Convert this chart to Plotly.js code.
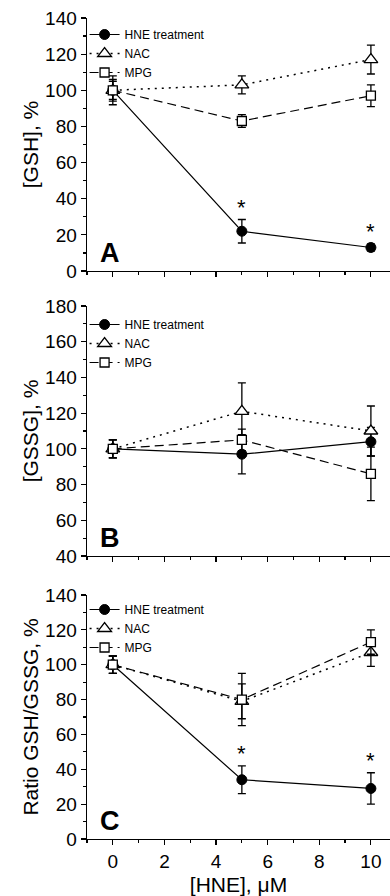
<!DOCTYPE html>
<html>
<head>
<meta charset="utf-8">
<script src="https://cdn.plot.ly/plotly-3.0.1.min.js"></script>
<style>html,body{margin:0;padding:0;background:#fff}#chart{width:390px;height:896px}</style>
</head>
<body>
<div id="chart"></div>
<script>
// ---- data ----
const hneDose = [0, 5, 10];
const seriesNames = ['HNE treatment', 'NAC', 'MPG'];

const gshHNE = [100, 22, 13];
const gshHNEerr = [8, 6.5, 2];
const gshNAC = [100, 103, 117];
const gshNACerr = [5, 5, 8];
const gshMPG = [100, 83, 97];
const gshMPGerr = [6, 3.5, 6];

const gssgHNE = [100, 97, 104];
const gssgHNEerr = [5, 11, 8];
const gssgNAC = [100, 121, 110];
const gssgNACerr = [5, 16, 14];
const gssgMPG = [100, 105, 86];
const gssgMPGerr = [5, 6, 15];

const ratioHNE = [100, 34, 29];
const ratioHNEerr = [5, 8, 9];
const ratioNAC = [100, 79, 107];
const ratioNACerr = [5, 10, 8];
const ratioMPG = [100, 80, 113];
const ratioMPGerr = [5, 15, 7];

const yTitles = ['[GSH], %', '[GSSG], %', 'Ratio GSH/GSSG, %'];
const panelLetters = ['A', 'B', 'C'];
const xTitle = '[HNE], μM';
// significance marks: which HNE points get an asterisk, per panel
const sigA = [false, true, true];
const sigB = [false, false, false];
const sigC = [false, true, true];

// ---- styles ----
const FONT = 'Liberation Sans, Arial, sans-serif';
const styles = [
  {line: {color: '#000', width: 1.2, dash: 'solid'}, marker: {symbol: 'circle', size: 10, color: '#000', line: {color: '#000', width: 1}}},
  {line: {color: '#000', width: 1.5, dash: '2px,5px'}, marker: {symbol: 'triangle-up', size: 12, color: '#fff', line: {color: '#000', width: 1.3}}},
  {line: {color: '#000', width: 1.2, dash: '9px,5px'}, marker: {symbol: 'square', size: 9, color: '#fff', line: {color: '#000', width: 1.3}}}
];

const panels = [
  {vals: [gshHNE, gshNAC, gshMPG], errs: [gshHNEerr, gshNACerr, gshMPGerr], sig: sigA},
  {vals: [gssgHNE, gssgNAC, gssgMPG], errs: [gssgHNEerr, gssgNACerr, gssgMPGerr], sig: sigB},
  {vals: [ratioHNE, ratioNAC, ratioMPG], errs: [ratioHNEerr, ratioNACerr, ratioMPGerr], sig: sigC}
];

const traces = [];
const annotations = [];
panels.forEach((p, pi) => {
  const xa = pi === 0 ? 'x' : 'x' + (pi + 1);
  const ya = pi === 0 ? 'y' : 'y' + (pi + 1);
  const lg = pi === 0 ? 'legend' : 'legend' + (pi + 1);
  p.vals.forEach((v, si) => {
    traces.push({
      type: 'scatter', mode: 'lines+markers',
      x: hneDose, y: v, name: seriesNames[si],
      xaxis: xa, yaxis: ya, legend: lg,
      line: styles[si].line, marker: styles[si].marker,
      error_y: {type: 'data', array: p.errs[si], visible: true, color: '#000', thickness: 1.3, width: 4},
      cliponaxis: false
    });
  });
  p.sig.forEach((s, i) => {
    if (s) {
      annotations.push({
        xref: xa, yref: ya, x: hneDose[i], y: p.vals[0][i] + p.errs[0][i],
        text: '*', showarrow: false, yanchor: 'bottom', yshift: -2,
        font: {family: FONT, size: 22, color: '#000'}
      });
    }
  });
  annotations.push({
    xref: xa + ' domain', yref: ya + ' domain', x: 0.035, y: 0,
    xanchor: 'left', yanchor: 'bottom', yshift: 1,
    text: '<b>' + panelLetters[pi] + '</b>', showarrow: false,
    font: {family: FONT, size: 27, color: '#000'}
  });
});

const plotTop = 18, plotBottom = 839, H = 896;
const span = plotBottom - plotTop;
const f = px => (plotBottom - px) / span;

const xRange = [-1, 10.74];
function xAxis(showLabels, anchor) {
  return {
    anchor: anchor, range: xRange, tickmode: 'array', tickvals: [0, 2, 4, 6, 8, 10],
    ticks: 'outside', ticklen: 5, tickwidth: 1.2, tickcolor: '#000',
    minor: {tickmode: 'array', tickvals: [-1, 1, 3, 5, 7, 9], ticks: 'outside', ticklen: 3, tickwidth: 1.2, tickcolor: '#000'},
    showline: true, linecolor: '#000', linewidth: 1.4,
    showgrid: false, zeroline: false, showticklabels: showLabels,
    tickfont: {family: FONT, size: 19, color: '#000'}, fixedrange: true
  };
}
function xTop(overlay, anchor) {
  const a = xAxis(false, anchor);
  a.overlaying = overlay; a.side = 'top'; a.ticks = 'inside'; a.minor.ticks = 'inside';
  return a;
}
function yAxis(domain, range, dtick, title, standoff) {
  return {
    domain: domain, range: range, dtick: dtick, tick0: 0,
    ticks: 'outside', ticklen: 5, tickwidth: 1.2, tickcolor: '#000',
    minor: {dtick: dtick / 2, ticks: 'outside', ticklen: 3, tickwidth: 1.2, tickcolor: '#000'},
    showline: true, linecolor: '#000', linewidth: 1.4,
    showgrid: false, zeroline: false,
    tickfont: {family: FONT, size: 19, color: '#000'},
    title: {text: title, font: {family: FONT, size: 21, color: '#000'}, standoff: standoff},
    fixedrange: true
  };
}
function legendAt(topPx) {
  return {
    x: -0.008, y: f(topPx), xanchor: 'left', yanchor: 'top',
    bgcolor: 'rgba(0,0,0,0)', borderwidth: 0, itemwidth: 30,
    font: {family: FONT, size: 12, color: '#000'}, tracegroupgap: 0
  };
}

const layout = {
  width: 390, height: H,
  margin: {l: 87, r: 0, t: plotTop, b: H - plotBottom},
  paper_bgcolor: '#fff', plot_bgcolor: '#fff',
  showlegend: true,
  xaxis: xAxis(false, 'y'),
  xaxis2: xAxis(false, 'y2'),
  xaxis3: Object.assign(xAxis(true, 'y3'), {title: {text: xTitle, font: {family: FONT, size: 21, color: '#000'}, standoff: 6}}),
  xaxis4: xTop('x', 'y'),
  xaxis5: xTop('x2', 'y2'),
  xaxis6: xTop('x3', 'y3'),
  yaxis: yAxis([f(271), 1], [0, 140], 20, yTitles[0], 0),
  yaxis2: yAxis([f(556), f(306)], [40, 180], 20, yTitles[1], 0),
  yaxis3: yAxis([0, f(595)], [0, 140], 20, yTitles[2], 0),
  legend: legendAt(20),
  legend2: legendAt(310),
  legend3: legendAt(595),
  annotations: annotations
};

Plotly.newPlot('chart', traces, layout, {displayModeBar: false, staticPlot: true});
</script>
</body>
</html>
